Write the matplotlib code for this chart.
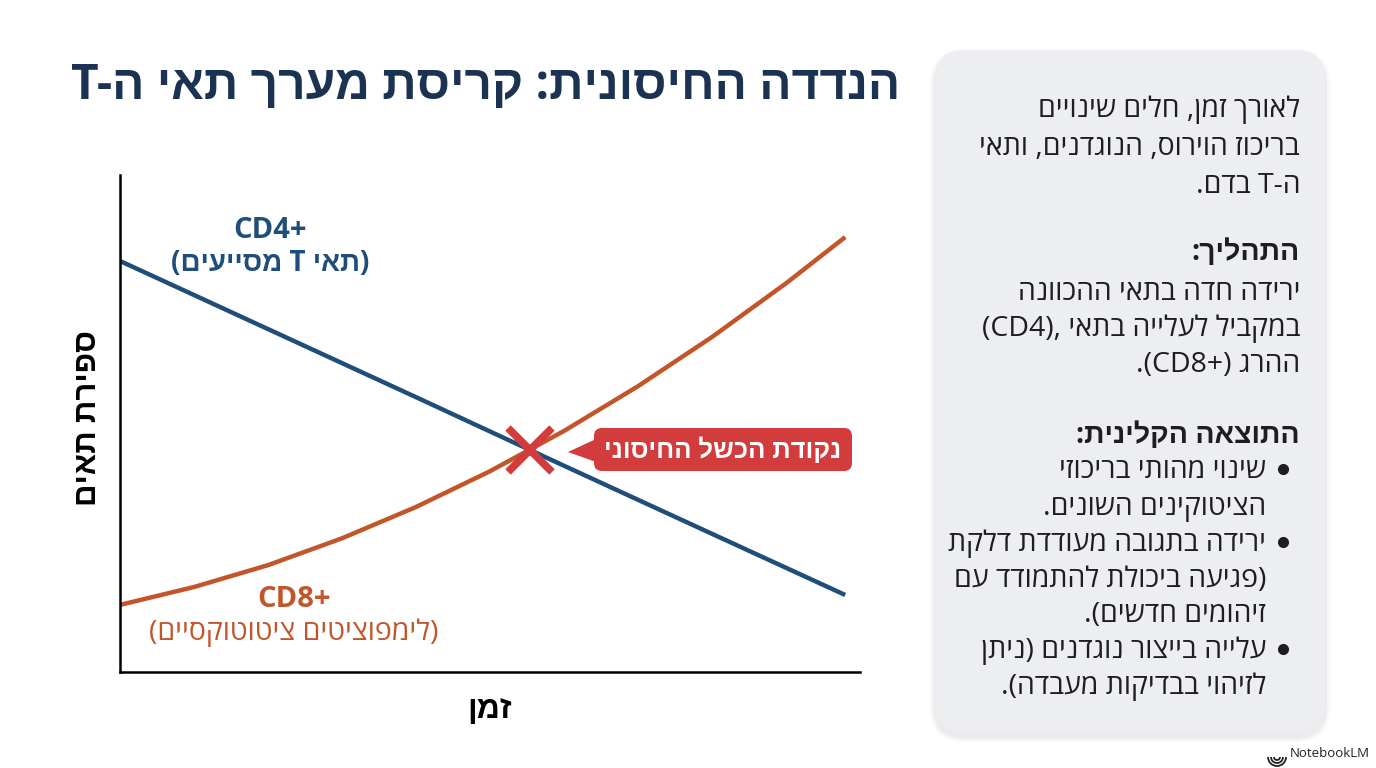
import matplotlib.pyplot as plt
from matplotlib.patches import FancyBboxPatch, Polygon, Arc

W, H = 1376, 768

# Data (time axis 0..10, cell count 0..10)
time_cd4 = [0.0, 2.0, 4.0, 6.0, 8.0, 9.8]
count_cd4 = [8.27, 6.90, 5.53, 4.15, 2.78, 1.55]
time_cd8 = [0.0, 1.0, 2.0, 3.0, 4.0, 5.0, 6.0, 7.0, 8.0, 9.0, 9.8]
count_cd8 = [1.35, 1.71, 2.15, 2.69, 3.32, 4.04, 4.85, 5.75, 6.74, 7.82, 8.75]
crossing = (5.54, 4.47)

title = "הנדדה החיסונית: קריסת מערך תאי ה-T"
x_label = "זמן"
y_label = "ספירת תאים"
cd4_name = "CD4+"
cd4_desc = "(תאי T מסייעים)"
cd8_name = "CD8+"
cd8_desc = "(לימפוציטים ציטוטוקסיים)"
callout = "נקודת הכשל החיסוני"

intro_lines = ["לאורך זמן, חלים שינויים", "בריכוז הוירוס, הנוגדנים, ותאי", "ה-T בדם."]
process_head = "התהליך:"
process_lines = ["ירידה חדה בתאי ההכוונה", "(CD4), במקביל לעלייה בתאי", "ההרג (CD8+)."]
result_head = "התוצאה הקלינית:"
bullets = [
    ["שינוי מהותי בריכוזי", "הציטוקינים השונים."],
    ["ירידה בתגובה מעודדת דלקת", "(פגיעה ביכולת להתמודד עם", "זיהומים חדשים)."],
    ["עלייה בייצור נוגדנים (ניתן", "לזיהוי בבדיקות מעבדה)."],
]

BLUE = "#1f4e7a"
ORANGE = "#c2562a"
NAVY = "#1b3252"
RED = "#d23c3c"
FONT = ["Open Sans", "Liberation Sans", "DejaVu Sans"]

MIRROR = {"(": ")", ")": "(", "[": "]", "]": "["}


def _kind(c):
    if "\u0590" <= c <= "\u05ff":
        return "R"
    if c.isascii() and (c.isalnum() or c == "+"):
        return "L"
    return None


def bidi(s):
    # Tiny bidi: line direction from the first strong char, neutrals resolved by neighbours.
    kinds = [_kind(c) for c in s]
    base = next((k for k in kinds if k), "R")
    res = list(kinds)
    i = 0
    while i < len(s):
        if res[i] is None:
            j = i
            while j < len(s) and kinds[j] is None:
                j += 1
            prev = res[i - 1] if i > 0 else base
            nxt = kinds[j] if j < len(s) else base
            d = prev if prev == nxt else base
            for k in range(i, j):
                res[k] = d
            i = j
        else:
            i += 1
    runs = []
    for c, d in zip(s, res):
        if runs and runs[-1][0] == d:
            runs[-1][1].append(c)
        else:
            runs.append([d, [c]])
    parts = []
    for d, chars in runs:
        if d == "R":
            parts.append("".join(MIRROR.get(c, c) for c in reversed(chars)))
        else:
            parts.append("".join(chars))
    if base == "R":
        parts.reverse()
    return "".join(parts)


plt.rcParams["font.family"] = FONT

fig = plt.figure(figsize=(W / 100, H / 100), dpi=100)
fig.patch.set_facecolor("white")

# Chart area
ax = fig.add_axes([120 / W, (H - 672) / H, 740 / W, 497 / H])
ax.set_xlim(0, 10)
ax.set_ylim(0, 10)
ax.plot(time_cd4, count_cd4, color=BLUE, linewidth=3.2, solid_capstyle="butt")
ax.plot(time_cd8, count_cd8, color=ORANGE, linewidth=3.2, solid_capstyle="butt",
        solid_joinstyle="round")
ax.plot([crossing[0]], [crossing[1]], marker="x", markersize=32, mew=5.5, color=RED, zorder=5)
for side in ("top", "right"):
    ax.spines[side].set_visible(False)
for side in ("left", "bottom"):
    ax.spines[side].set_linewidth(1.8)
    ax.spines[side].set_color("black")
ax.set_xticks([])
ax.set_yticks([])
ax.patch.set_alpha(0)

# Overlay in pixel coordinates (y grows downward)
ov = fig.add_axes([0, 0, 1, 1], zorder=-1)
ov.set_xlim(0, W)
ov.set_ylim(H, 0)
ov.axis("off")

top = fig.add_axes([0, 0, 1, 1], zorder=10)
top.set_xlim(0, W)
top.set_ylim(H, 0)
top.axis("off")
top.patch.set_alpha(0)

top.text(900, 99, bidi(title), ha="right", va="baseline", fontsize=34.5,
         fontweight="bold", color=NAVY)

top.text(270, 238, cd4_name, ha="center", va="baseline", fontsize=21, fontweight="bold", color=BLUE)
top.text(270, 271, bidi(cd4_desc), ha="center", va="baseline", fontsize=20, fontweight="bold", color=BLUE)
top.text(294, 607, cd8_name, ha="center", va="baseline", fontsize=21, fontweight="bold", color=ORANGE)
top.text(294, 640, bidi(cd8_desc), ha="center", va="baseline", fontsize=20.5, color=ORANGE)

top.text(490, 718, bidi(x_label), ha="center", va="baseline", fontsize=23, fontweight="bold", color="black")
top.text(88, 418, bidi(y_label), ha="center", va="center", rotation=90, fontsize=22.5,
         fontweight="bold", color="black")

# Callout
top.add_patch(FancyBboxPatch((594, 428), 258, 43, boxstyle="round,pad=0,rounding_size=8",
                             facecolor=RED, edgecolor="none"))
top.add_patch(Polygon([(596, 439), (596, 462), (568, 452)], closed=True,
                      facecolor=RED, edgecolor="none"))
top.text(723, 458, bidi(callout), ha="center", va="baseline", fontsize=18.5,
         fontweight="bold", color="white")

# Side panel with soft shadow
for k, a in enumerate([0.035, 0.025, 0.015]):
    g = 2 * (k + 1)
    ov.add_patch(FancyBboxPatch((935 - g, 50 - g + 5), 390 + 2 * g, 682 + 2 * g,
                                boxstyle="round,pad=0,rounding_size=%d" % (30 + g),
                                facecolor="black", alpha=a, edgecolor="none"))
ov.add_patch(FancyBboxPatch((935, 50), 390, 682, boxstyle="round,pad=0,rounding_size=30",
                            facecolor="#eceef1", edgecolor="none"))

BODY = 20.5
TXT = "#1e1e1e"
for line, y in zip(intro_lines, [117, 155, 193]):
    top.text(1300, y, bidi(line), ha="right", va="baseline", fontsize=BODY, color=TXT)
top.text(1300, 260, bidi(process_head), ha="right", va="baseline", fontsize=BODY,
         fontweight="bold", color=TXT)
for line, y in zip(process_lines, [300, 336, 372]):
    top.text(1300, y, bidi(line), ha="right", va="baseline", fontsize=BODY, color=TXT)
top.text(1300, 443, bidi(result_head), ha="right", va="baseline", fontsize=BODY,
         fontweight="bold", color=TXT)

ys = iter([478, 515, 551, 587, 622, 658, 694])
for item in bullets:
    for j, line in enumerate(item):
        y = next(ys)
        if j == 0:
            top.plot([1283], [y - 9], marker="o", markersize=7, color=TXT)
        top.text(1266, y, bidi(line), ha="right", va="baseline", fontsize=BODY, color=TXT)

# NotebookLM mark
for r in (3, 6, 9):
    top.add_patch(Arc((1277, 757), 2 * r, 2 * r, theta1=0, theta2=180, color="#222", linewidth=1.3))
top.text(1290, 757, "NotebookLM", ha="left", va="baseline", fontsize=9.5, color="#222")

fig.savefig("out.png", dpi=100, facecolor="white")
